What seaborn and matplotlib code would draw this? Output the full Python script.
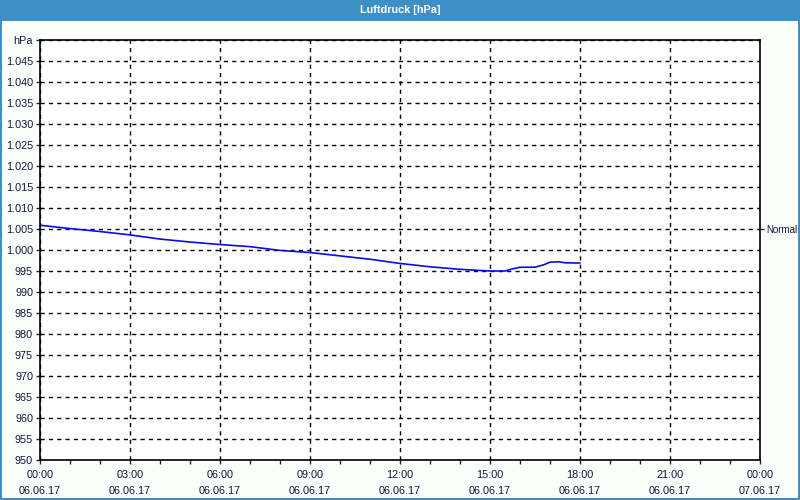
import matplotlib
matplotlib.use("Agg")
import matplotlib.pyplot as plt
import matplotlib.patches as mpatches
from matplotlib.ticker import MultipleLocator, FuncFormatter
import seaborn as sns
import pandas as pd

# Data (hours since 06.06.17 00:00, pressure in hPa)
hours = [0, 1, 2, 3, 4, 5, 6, 7, 8, 9, 10, 11, 12, 13, 14, 14.5, 15, 15.5,
         15.75, 16, 16.5, 16.8, 17, 17.3, 17.5, 18]
pressure = [1005.9, 1005.1, 1004.4, 1003.6, 1002.6, 1001.9, 1001.3, 1000.8,
            999.9, 999.4, 998.6, 997.8, 996.8, 996.0, 995.4, 995.2, 995.0,
            995.0, 995.5, 995.9, 995.9, 996.5, 997.1, 997.2, 996.95, 996.9]
x_tick_labels = ["00:00\n06.06.17", "03:00\n06.06.17", "06:00\n06.06.17",
                 "09:00\n06.06.17", "12:00\n06.06.17", "15:00\n06.06.17",
                 "18:00\n06.06.17", "21:00\n06.06.17", "00:00\n07.06.17"]
y_ticks = [950, 955, 960, 965, 970, 975, 980, 985, 990, 995, 1000, 1005,
           1010, 1015, 1020, 1025, 1030, 1035, 1040, 1045, 1050]
title = "Luftdruck [hPa]"
series_name = "Normal"

df = pd.DataFrame({"hour": hours, "hPa": pressure})

sns.set_style("white")
plt.rcParams["font.family"] = ["Liberation Sans", "DejaVu Sans"]

TXT = "#10183a"
FS = 7.8

fig = plt.figure(figsize=(8, 5), dpi=100, facecolor="#fcfefc")
ax = fig.add_axes([40 / 800, 40 / 500, 720 / 800, 420 / 500])
ax.set_facecolor("white")

sns.lineplot(data=df, x="hour", y="hPa", ax=ax, color="#0a0ae6",
             linewidth=1.2, legend=False)

ax.set_xlim(0, 24)
ax.set_ylim(950, 1050)
ax.set_xlabel("")
ax.set_ylabel("")

ax.xaxis.set_minor_locator(MultipleLocator(1))
ax.set_xticks(range(0, 25, 3))
ax.set_xticklabels(x_tick_labels, fontsize=FS, color=TXT, linespacing=1.75)
ax.set_yticks(y_ticks)

def yfmt(v, pos):
    v = int(round(v))
    if v == 1050:
        return "hPa"
    if v >= 1000:
        return f"{v // 1000}.{v % 1000:03d}"
    return str(v)

ax.yaxis.set_major_formatter(FuncFormatter(yfmt))
ax.tick_params(axis="y", labelsize=FS, labelcolor=TXT, length=3,
               width=1, pad=2, direction="out", left=True)
ax.tick_params(axis="x", which="both", length=3, width=1, pad=4,
               direction="out", bottom=True)

ax.grid(True, which="major", color="black", linestyle=(0, (3, 3)), linewidth=1)
for s in ax.spines.values():
    s.set_color("black")
    s.set_linewidth(1.2)
    s.set_visible(True)

# Right-side series label
ax2 = ax.twinx()
ax2.set_ylim(950, 1050)
ax2.set_yticks([1005])
ax2.set_yticklabels([series_name], fontsize=7, color=TXT)
ax2.tick_params(axis="y", length=3, width=1, pad=1.5, direction="out")
ax2.grid(False)
for s in ax2.spines.values():
    s.set_visible(False)

# Title bar
fig.patches.append(mpatches.Rectangle((0, 1 - 21 / 500), 1, 21 / 500,
                                      transform=fig.transFigure,
                                      facecolor="#3d8fc6", edgecolor="none",
                                      zorder=0))
fig.text(0.5, 1 - 10 / 500, title, ha="center", va="center", color="white",
         fontsize=FS, fontweight="bold")
# Window border
for rect in [(0, 0, 2 / 800, 1), (1 - 2 / 800, 0, 2 / 800, 1), (0, 0, 1, 2 / 500)]:
    fig.patches.append(mpatches.Rectangle(rect[:2], rect[2], rect[3],
                                          transform=fig.transFigure,
                                          facecolor="#3d8fc6", edgecolor="none",
                                          zorder=0))

fig.savefig("out.png", dpi=100, facecolor=fig.get_facecolor())
